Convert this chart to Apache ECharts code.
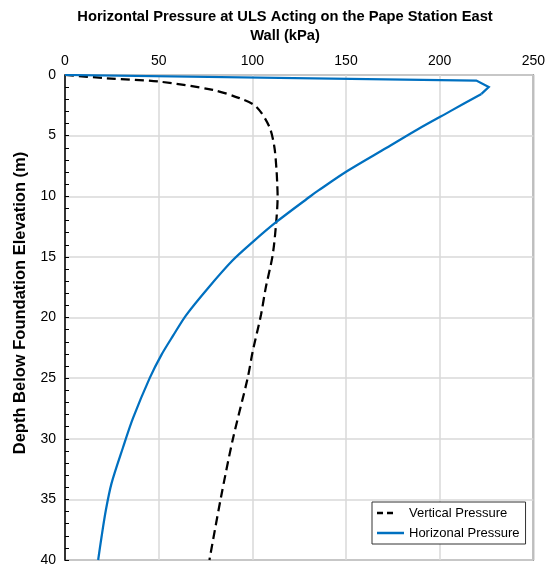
<!DOCTYPE html>
<html>
<head>
<meta charset="utf-8">
<script src="https://cdn.jsdelivr.net/npm/echarts@6/dist/echarts.min.js"></script>
<style>html,body{margin:0;padding:0;background:#fff}#c{width:548px;height:567px}</style>
</head>
<body>
<div id="c"></div>
<script>
// Depth (m) and pressure (kPa)
const horizDepth = [0, 0.46, 1.0, 1.56, 3.0, 4.45, 6.0, 7.92, 9.5, 10.0, 12.16, 13.8, 15.3, 17.6, 19.8, 21.5, 23.1, 25.0, 28.3, 30.7, 33.7, 35.9, 38.1, 40];
const horizPressure = [0, 219.6, 226.2, 222.3, 205.5, 188.6, 171.7, 150.7, 135.5, 131.0, 112.5, 100.0, 89.4, 76.2, 64.7, 57.7, 51.4, 45.2, 36.3, 31.0, 24.8, 21.8, 19.5, 17.7];
const vertDepth = [0, 0.27, 0.55, 1.23, 1.91, 2.6, 4.24, 5.88, 7.8, 9.0, 10, 12.4, 14.9, 17.6, 19.8, 22.8, 25, 30.1, 34.8, 40];
const vertPressure = [0, 22.2, 50.5, 78.9, 93.1, 102, 109, 111.7, 112.9, 113.3, 113.5, 112.6, 110.8, 107.1, 104.6, 100.2, 97.5, 89.5, 83.3, 77.1];
const xTicks = [0, 50, 100, 150, 200, 250];
const yTicks = [0, 5, 10, 15, 20, 25, 30, 35, 40];
const seriesNames = ['Vertical Pressure', 'Horizonal Pressure'];

const font = '"Liberation Sans", Arial, sans-serif';
const horizPairs = horizPressure.map((v, i) => [v, horizDepth[i]]);
const chart = echarts.init(document.getElementById('c'));
chart.setOption({
  animation: false,
  graphic: [{
    type: 'text', x: 285, y: 7,
    style: {
      text: 'Horizontal Pressure at ULS Acting on the Pape Station East\nWall (kPa)',
      textAlign: 'center', font: 'bold 14.7px ' + font, fill: '#000', lineHeight: 19
    }
  }, {
    type: 'text', x: 20, y: 303, rotation: Math.PI / 2,
    style: {
      text: 'Depth Below Foundation Elevation (m)',
      textAlign: 'center', textVerticalAlign: 'middle', font: 'bold 16.5px ' + font, fill: '#000'
    }
  }],
  grid: { left: 65, right: 11, top: 75, bottom: 4, show: true, borderColor: '#6f6f6f', borderWidth: 1.5 },
  xAxis: {
    type: 'value', position: 'top', min: xTicks[0], max: xTicks[xTicks.length - 1], interval: 50,
    axisLine: { show: false }, axisTick: { show: false },
    axisLabel: { color: '#000', fontSize: 14, fontFamily: font, margin: 7 },
    splitLine: { lineStyle: { color: '#d9d9d9', width: 1.5 } }
  },
  yAxis: {
    type: 'value', inverse: true, min: yTicks[0], max: yTicks[yTicks.length - 1], interval: 5,
    axisLine: { show: true, lineStyle: { color: '#000', width: 1.5 } },
    axisTick: { show: true, inside: true, length: 4, lineStyle: { color: '#000' } },
    minorTick: { show: true, splitNumber: 5, length: 4, lineStyle: { color: '#000' } },
    axisLabel: { color: '#000', fontSize: 14, fontFamily: font, margin: 9 },
    splitLine: { lineStyle: { color: '#d9d9d9', width: 1.5 } }
  },
  legend: {
    orient: 'vertical', left: 372, top: 502, itemWidth: 27, itemHeight: 2.5, itemGap: 4,
    padding: [3, 6, 3, 5], borderColor: '#333', borderWidth: 1, backgroundColor: '#fff',
    textStyle: { fontSize: 13, fontFamily: font, color: '#000', lineHeight: 16 },
    data: [
      { name: seriesNames[0], icon: 'path://M0,0H6V2.5H0Z M10,0H16V2.5H10Z M26.9,1.2H27V1.3H26.9Z' },
      { name: seriesNames[1], icon: 'path://M0,0H27V2.5H0Z' }
    ]
  },
  series: [
    {
      name: seriesNames[0], type: 'line', symbol: 'none', smooth: 0.3,
      lineStyle: { color: '#000', width: 2.25, type: [9, 5] }, itemStyle: { color: '#000' },
      data: vertPressure.map((v, i) => [v, vertDepth[i]])
    },
    {
      name: seriesNames[1], type: 'line', symbol: 'none', smooth: false,
      lineStyle: { color: '#0070C0', width: 2.25, join: 'miter' }, itemStyle: { color: '#0070C0' },
      data: horizPairs.slice(0, 4)
    },
    {
      name: seriesNames[1], type: 'line', symbol: 'none', smooth: 0.3,
      lineStyle: { color: '#0070C0', width: 2.25 }, itemStyle: { color: '#0070C0' },
      data: horizPairs.slice(3)
    }
  ]
});
</script>
</body>
</html>
